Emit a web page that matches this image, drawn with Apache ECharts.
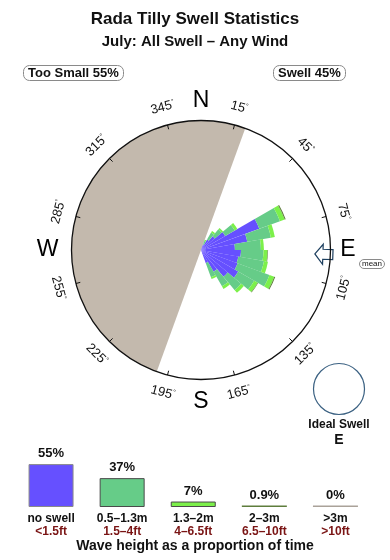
<!DOCTYPE html>
<html><head><meta charset="utf-8">
<script src="https://cdn.jsdelivr.net/npm/echarts@6/dist/echarts.min.js"></script>
<style>html,body{margin:0;padding:0;background:#fff}#c{width:390px;height:560px}</style>
</head><body><div id="c"></div>
<script>
// ---- data ----
const binCentres = [25, 35, 45, 55, 65, 75, 85, 95, 105, 115, 125, 135, 145, 155]; // 10° direction bins
const noSwell   = [4.6, 9.3, 13.9, 21.6, 47.9, 36.3, 26.2, 30.9, 29.3, 30.1, 33.2, 27.0, 19.3, 10.8];
const swell05   = [2.7, 6.2, 6.9, 8.5, 17.0, 18.5, 20.1, 17.4, 20.1, 26.2, 14.3, 13.5, 13.1, 11.6];
const swell13   = [1.2, 1.5, 1.5, 2.3, 3.9, 3.1, 2.3, 3.1, 3.1, 3.9, 3.1, 2.7, 2.3, 1.5];
const swell2    = [0, 0, 0, 0, 0.8, 0, 0, 0.4, 0, 0.8, 0.4, 0, 0, 0];
const shadowFrom = 200, shadowTo = 20;   // compass degrees, clockwise (land shadow)
const meanDir = 92;
const idealDir = 'E';
const tickAngles = [15, 45, 75, 105, 135, 165, 195, 225, 255, 285, 315, 345];
const compassAngles = [0, 90, 180, 270];
const compassLabels = ['N', 'E', 'S', 'W'];
const tooSmallPct = 55, swellPct = 45;
const heightBands = ['no swell', '0.5\u20131.3m', '1.3\u20132m', '2\u20133m', '>3m'];
const feetBands = ['<1.5ft', '1.5\u20134ft', '4\u20136.5ft', '6.5\u201310ft', '>10ft'];
const heightPct = [55, 37, 7, 0.9, 0];

// ---- styles ----
const FONT = '"Liberation Sans", Arial, Helvetica, sans-serif';
const C_BLUE = '#6650ff', C_GREEN = '#66cc88', C_LGREEN = '#7cf04a', C_DGREEN = '#5e7d3c', C_GREY = '#aaa299';
const bandColors = [C_BLUE, C_GREEN, C_LGREEN, C_DGREEN, C_GREY];
const bandBorders = ['#8a8a8a', '#4a4a4a', '#4a4a4a', C_DGREEN, C_GREY];
const CX = 201, CY = 250, R = 129.5;
const compassRadius = { N: 115, E: 113.5, S: 117, W: 118.5 };

const angleBins = [];
for (let d = 0; d < 360; d += 10) angleBins.push(d + '\u00b0');
function spread(vals) {
  const out = new Array(angleBins.length).fill(0);
  binCentres.forEach((c, i) => { out[(c - 5) / 10] = vals[i]; });
  return out;
}
const shadowSpan = (shadowTo - shadowFrom + 360) % 360;

function roseSeries(name, vals, color) {
  return { type: 'bar', name: name, coordinateSystem: 'polar', polarIndex: 0, stack: 'rose',
    data: spread(vals), barCategoryGap: '0%', itemStyle: { color: color }, silent: true, z: 3 };
}

const chart = echarts.init(document.getElementById('c'));
const option = {
  animation: false,
  textStyle: { fontFamily: FONT },
  title: [
    { text: 'Rada Tilly Swell Statistics', left: 'center', top: 11, padding: 0,
      textStyle: { fontSize: 17, fontWeight: 'bold', color: '#111', fontFamily: FONT } },
    { text: 'July: All Swell \u2013 Any Wind', left: 'center', top: 34, padding: 0,
      textStyle: { fontSize: 15, fontWeight: 'bold', color: '#111', fontFamily: FONT } },
    { text: 'Too Small ' + tooSmallPct + '%', left: 23, top: 65, padding: [2, 5, 1, 5],
      borderColor: '#8a8a8a', borderWidth: 1, borderRadius: 6,
      textStyle: { fontSize: 13, fontWeight: 'bold', color: '#111', fontFamily: FONT } },
    { text: 'Swell ' + swellPct + '%', left: 273, top: 65, padding: [2, 5, 1, 5],
      borderColor: '#8a8a8a', borderWidth: 1, borderRadius: 6,
      textStyle: { fontSize: 13, fontWeight: 'bold', color: '#111', fontFamily: FONT } },
    { text: 'mean', left: 359, top: 259, padding: [1, 3, 1, 3],
      borderColor: '#8a8a8a', borderWidth: 1, borderRadius: 6,
      textStyle: { fontSize: 8, fontWeight: 'normal', color: '#111', fontFamily: FONT } },
    { text: 'Wave height as a proportion of time', left: 'center', top: 539, padding: 0,
      textStyle: { fontSize: 14, fontWeight: 'bold', color: '#111', fontFamily: FONT } }
  ],
  graphic: [
    { type: 'circle', shape: { cx: 339, cy: 389, r: 25.5 }, style: { fill: '#fff', stroke: '#3b6182', lineWidth: 1.2 } },
    { type: 'text', x: 339, y: 425, style: { text: 'Ideal Swell', font: 'bold 12px ' + FONT, fill: '#111',
      textAlign: 'center', textVerticalAlign: 'middle', align: 'center', verticalAlign: 'middle' } },
    { type: 'text', x: 339, y: 440, style: { text: idealDir, font: 'bold 14px ' + FONT, fill: '#111',
      textAlign: 'center', textVerticalAlign: 'middle', align: 'center', verticalAlign: 'middle' } }
  ],
  polar: [{ center: [CX, CY], radius: R }, { center: [CX, CY], radius: R }],
  angleAxis: [
    { polarIndex: 0, type: 'category', data: angleBins, startAngle: 90, clockwise: true, boundaryGap: true,
      axisLine: { show: true, lineStyle: { color: '#111', width: 1.3 } }, axisTick: { show: false },
      axisLabel: { show: false }, splitLine: { show: false }, splitArea: { show: false }, z: 10 },
    { polarIndex: 1, type: 'value', min: 0, max: 360, startAngle: 90, clockwise: true, show: false }
  ],
  radiusAxis: [
    { polarIndex: 0, type: 'value', min: 0, max: 100, show: false },
    { polarIndex: 1, type: 'value', min: 0, max: 100, show: false }
  ],
  grid: { left: 15.5, right: 19, top: 429, bottom: 53 },
  xAxis: { type: 'category', data: heightBands, axisLine: { show: false }, axisTick: { show: false },
    axisLabel: { margin: 5, interval: 0,
      formatter: (v, i) => '{a|' + heightBands[i] + '}\n{b|' + feetBands[i] + '}',
      rich: { a: { fontSize: 12, fontWeight: 'bold', color: '#111', lineHeight: 13, fontFamily: FONT },
              b: { fontSize: 12, fontWeight: 'bold', color: '#7a1414', lineHeight: 13, fontFamily: FONT } } } },
  yAxis: { type: 'value', min: 0, max: 100, show: false },
  series: [
    { type: 'pie', center: [CX, CY], radius: [0, R], startAngle: (90 - shadowFrom + 360) % 360, clockwise: true,
      silent: true, z: 1, label: { show: false }, labelLine: { show: false }, emphasis: { disabled: true },
      itemStyle: { borderWidth: 0 },
      data: [{ value: shadowSpan, itemStyle: { color: '#c3b9ad' } },
             { value: 360 - shadowSpan, itemStyle: { color: 'rgba(0,0,0,0)' } }] },
    roseSeries('no swell', noSwell, C_BLUE),
    roseSeries('0.5-1.3m', swell05, C_GREEN),
    roseSeries('1.3-2m', swell13, C_LGREEN),
    roseSeries('2-3m', swell2, C_DGREEN),
    { type: 'custom', coordinateSystem: 'polar', polarIndex: 1, silent: true, z: 5,
      data: tickAngles.map(a => [100, a]),
      renderItem: function (params, api) {
        const a = api.value(1);
        const p0 = api.coord([100, a]), p1 = api.coord([96.5, a]), pl = api.coord([114, a]);
        const upper = Math.cos(a * Math.PI / 180) > 0;
        const rot = -(upper ? a : a - 180) * Math.PI / 180;
        return { type: 'group', children: [
          { type: 'line', shape: { x1: p0[0], y1: p0[1], x2: p1[0], y2: p1[1] }, style: { stroke: '#111', lineWidth: 1 } },
          { type: 'text', x: pl[0], y: pl[1], rotation: rot,
            style: { text: '{v|' + a + '}{d|\u00b0}', fill: '#111',
              rich: { v: { fontSize: 13, fontFamily: FONT, fill: '#111', color: '#111' },
                      d: { fontSize: 7, fontFamily: FONT, fill: '#111', color: '#111', verticalAlign: 'top', padding: [0, 0, 6, 0] } },
              align: 'center', verticalAlign: 'middle', textAlign: 'center', textVerticalAlign: 'middle' } }
        ] };
      } },
    { type: 'custom', coordinateSystem: 'polar', polarIndex: 1, silent: true, z: 5,
      data: compassAngles.map(a => [100, a]),
      renderItem: function (params, api) {
        const a = api.value(1);
        const lab = compassLabels[params.dataIndex];
        const p = api.coord([compassRadius[lab], a]);
        return { type: 'text', x: p[0], y: p[1],
          style: { text: lab, fontSize: 23, fontFamily: FONT, fill: '#000',
            align: 'center', verticalAlign: 'middle', textAlign: 'center', textVerticalAlign: 'middle' } };
      } },
    { type: 'custom', coordinateSystem: 'polar', polarIndex: 1, silent: true, z: 4,
      data: [[100, meanDir]],
      renderItem: function (params, api) {
        const a = api.value(1);
        const tip = api.coord([88, a]);
        return { type: 'polygon', x: tip[0], y: tip[1], rotation: -(a - 90) * Math.PI / 180,
          shape: { points: [[0, 0], [8, -10], [8, -5], [18, -5], [18, 5], [8, 5], [8, 10]] },
          style: { fill: '#fff', stroke: '#1d3f5f', lineWidth: 1.2 } };
      } },
    { type: 'bar', xAxisIndex: 0, yAxisIndex: 0, barWidth: 45, barMinHeight: 1.5, silent: true,
      data: heightPct.map((v, i) => ({ value: v, itemStyle: { color: bandColors[i], borderColor: bandBorders[i], borderWidth: i < 3 ? 1 : 0 } })),
      label: { show: true, position: 'top', distance: 4, formatter: p => p.value + '%',
        fontSize: 13, fontWeight: 'bold', color: '#111', fontFamily: FONT } }
  ]
};
chart.setOption(option);
</script>
</body></html>
